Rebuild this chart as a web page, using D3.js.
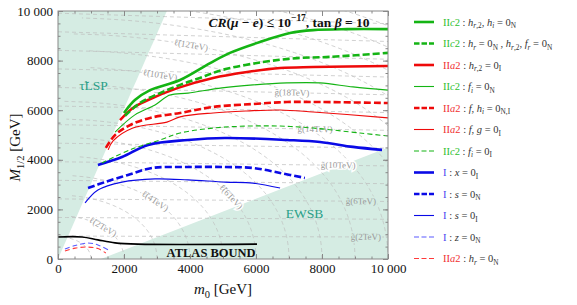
<!DOCTYPE html>
<html>
<head>
<meta charset="utf-8">
<script src="https://cdn.jsdelivr.net/npm/d3@7"></script>
<style>
  body { margin: 0; background: #fff; }
  svg { display: block; font-family: "Liberation Serif", "DejaVu Serif", serif; }
  text { white-space: pre; }
</style>
</head>
<body>
<svg id="chart" width="577" height="305"></svg>
<script>
// ── Data (m0, M1/2) in GeV ─────────────────────────────────────────────────
const c2Thick = [[2000,5890],[2330,6410],[2790,6810],[3700,7220],[4610,7900],[5210,8310],[6120,8750],[7030,9110],[7730,9230],[8760,9270],[10000,9270]];
const c2ThickDash = [[2030,5770],[2480,6290],[3090,6690],[3700,7020],[4300,7300],[4970,7620],[6210,7940],[7240,8100],[8240,8150],[10000,8310]];
const a2Thick = [[1880,5600],[2270,6090],[2730,6410],[3640,6900],[4700,7300],[5730,7540],[6730,7700],[7730,7740],[10000,7780]];
const c2Thin = [[1730,5120],[2330,5810],[2940,6210],[3390,6610],[3940,6690],[4970,6900],[5910,7020],[6940,7100],[7940,7100],[8940,6940],[10000,6810]];
const a2ThickDash = [[1450,4480],[1730,5000],[2180,5400],[2790,5690],[3700,5890],[4700,6130],[5910,6250],[6940,6330],[7940,6330],[10000,6290]];
const a2Thin = [[1520,4400],[1670,4760],[2270,5280],[3300,5520],[3700,5730],[4700,5890],[5730,5970],[6730,6010],[7730,5930],[10000,5690]];
const c2ThinDash = [[1330,3870],[2180,4400],[3090,4800],[3700,5080],[4700,5280],[5730,5360],[6730,5360],[7730,5280],[9150,5080],[10000,4960]];
const iThick = [[1210,3790],[1940,4110],[2730,4600],[3940,4800],[5060,4880],[6940,4800],[7940,4720],[8940,4520],[9820,4400]];
const iThickDash = [[910,2860],[1420,3100],[2120,3390],[2850,3670],[3940,3710],[5060,3710],[5910,3670],[6730,3470],[7480,3270]];
const iThin = [[820,2260],[1210,2780],[1940,3100],[2940,3230],[3940,3190],[5060,3100],[5910,3060],[6730,2860]];
const iThinDash = [[210,400],[520,545],[910,645],[1210,565],[1520,365]];
const a2ThinDash = [[210,320],[520,440],[910,480],[1210,420],[1450,240]];
const atlasBound = [[0,890],[730,890],[1210,770],[1730,650],[2420,600],[6030,600]];

const tauLspRegion = [[0,0],[0,10000],[3300,10000]];
const ewsbRegion = [[1300,0],[10000,4500],[10000,0]];

// contour families (TeV)
const sleptonMasses = [1,2,3,4,5,6,7,8,9,10,11,12,13,14,15,16];
const gluinoMasses = [2,4,6,8,10,12,14,16,18,20,22,24,26];
const sleptonLabels = [[2,1360],[4,2940],[6,5240],[10,3090],[12,4030]]; // [mass, m0 of label]
const gluinoLabels = [[2,9330],[6,9180],[10,8490],[14,7790],[18,7090]];

const tickValues = [0,2000,4000,6000,8000,10000];
const tickLabels = ["0","2000","4000","6000","8000","10 000"];

const legendItems = [
  { key: "c2Thick",     pre: "II*c*2", label: "*h*_{*r*,2}, *h*_{*i*} = 0_N" },
  { key: "c2ThickDash", pre: "II*c*2", label: "*h*_{*r*} = 0_N , *h*_{*r*,2}, *f*_{*r*} = 0_N" },
  { key: "a2Thick",     pre: "II*a*2", label: "*h*_{*r*,2} = 0_I" },
  { key: "c2Thin",      pre: "II*c*2", label: "*f*_{*i*} = 0_N" },
  { key: "a2ThickDash", pre: "II*a*2", label: "*f*, *h*_{*i*} = 0_{N,I}" },
  { key: "a2Thin",      pre: "II*a*2", label: "*f*, *g* = 0_I" },
  { key: "c2ThinDash",  pre: "II*c*2", label: "*f*_{*i*} = 0_I" },
  { key: "iThick",      pre: "I",      label: "*x* = 0_I" },
  { key: "iThickDash",  pre: "I",      label: "*s* = 0_N" },
  { key: "iThin",       pre: "I",      label: "*s* = 0_I" },
  { key: "iThinDash",   pre: "I",      label: "*z* = 0_N" },
  { key: "a2ThinDash",  pre: "II*a*2", label: "*h*_{*r*} = 0_N" }
];

const seriesData = { c2Thick, c2ThickDash, a2Thick, c2Thin, a2ThickDash, a2Thin, c2ThinDash, iThick, iThickDash, iThin, iThinDash, a2ThinDash };

// ── Styles ────────────────────────────────────────────────────────────────
const GREEN = "#14b414", RED = "#ee0a0a", BLUE = "#0a0ae6";
const style = {
  c2Thick:     { color: GREEN, w: 2.6, dash: null,  text: "#2ec02e" },
  c2ThickDash: { color: GREEN, w: 2.6, dash: "7 3", text: "#2ec02e" },
  a2Thick:     { color: RED,   w: 2.6, dash: null,  text: "#f03030" },
  c2Thin:      { color: GREEN, w: 1.1, dash: null,  text: "#2ec02e" },
  a2ThickDash: { color: RED,   w: 2.6, dash: "7 3", text: "#f03030" },
  a2Thin:      { color: RED,   w: 1.1, dash: null,  text: "#f03030" },
  c2ThinDash:  { color: GREEN, w: 1.1, dash: "5 3", text: "#2ec02e" },
  iThick:      { color: BLUE,  w: 2.6, dash: null,  text: "#4646f0" },
  iThickDash:  { color: BLUE,  w: 2.6, dash: "7 3", text: "#4646f0" },
  iThin:       { color: BLUE,  w: 1.1, dash: null,  text: "#4646f0" },
  iThinDash:   { color: "#5a5aff", w: 1.1, dash: "5 3", text: "#4646f0" },
  a2ThinDash:  { color: "#ff3a3a", w: 1.1, dash: "5 3", text: "#f03030" }
};
const SHADE = "#d5ece3", TEAL = "#2a9f88", CONTOUR = "#bdbdbd";

// ── Scales ────────────────────────────────────────────────────────────────
const svg = d3.select("#chart");
const x = d3.scaleLinear().domain([0, 10000]).range([58, 388]);
const y = d3.scaleLinear().domain([0, 10000]).range([259, 11]);
const px = ([a, b]) => [x(a), y(b)];

svg.append("defs").append("clipPath").attr("id", "plot")
  .append("rect").attr("x", x(0)).attr("y", y(10000)).attr("width", x(10000) - x(0)).attr("height", y(0) - y(10000));

const plot = svg.append("g").attr("clip-path", "url(#plot)");

// ── Math-ish text helper: *..* italic, _x / _{..} sub, ^x / ^{..} sup ──────
function runs(str) {
  const out = [];
  let i = 0, it = false;
  function push(ch, ital, shift) {
    const last = out[out.length - 1];
    if (last && last.italic === ital && last.shift === shift) last.text += ch;
    else out.push({ text: ch, italic: ital, shift });
  }
  function group() {
    if (str[i] !== "{") return str[i++];
    let depth = 1, j = i + 1;
    while (depth) { if (str[j] === "{") depth++; else if (str[j] === "}") depth--; j++; }
    const g = str.slice(i + 1, j - 1);
    i = j;
    return g;
  }
  while (i < str.length) {
    const c = str[i];
    if (c === "*") { it = !it; i++; continue; }
    if (c === "_" || c === "^") {
      i++;
      const g = group();
      let it2 = false;
      for (const ch of g) { if (ch === "*") { it2 = !it2; continue; } push(ch, it2, c === "_" ? 1 : -1); }
      continue;
    }
    push(c, it, 0);
    i++;
  }
  return out;
}
function mathText(sel, str, size, fill) {
  let cur = 0;
  for (const r of runs(str)) {
    const off = r.shift === 1 ? size * 0.28 : r.shift === -1 ? -size * 0.42 : 0;
    sel.append("tspan")
      .attr("dy", off - cur)
      .attr("font-size", r.shift ? size * 0.7 : size)
      .attr("font-style", r.italic ? "italic" : "normal")
      .attr("fill", fill)
      .text(r.text);
    cur = off;
  }
  if (cur) sel.append("tspan").attr("dy", -cur).text("");
}

// ── Shaded regions ────────────────────────────────────────────────────────
plot.selectAll("path.region").data([tauLspRegion, ewsbRegion]).join("path")
  .attr("class", "region")
  .attr("d", (d) => "M" + d.map(px).join("L") + "Z")
  .attr("fill", SHADE);

// ── Background contours ──────────────────────────────────────────────────
const cFac = (M) => 1.2 + 0.06 * M / 1000;
function sleptonCurve(mTeV) {
  const m = mTeV * 1000, pts = [];
  for (let M = 0; M <= 11000; M += 40) {
    const s = m * m - cFac(M) * M * M;
    if (s < 0) break;
    pts.push([Math.sqrt(s), M]);
  }
  return pts;
}
function sleptonM(mTeV, m0) {
  const m = mTeV * 1000;
  let lo = 0, hi = 20000;
  for (let k = 0; k < 50; k++) {
    const mid = (lo + hi) / 2;
    if (m * m - m0 * m0 - cFac(mid) * mid * mid > 0) lo = mid; else hi = mid;
  }
  return lo;
}
const gluinoM = (gTeV, m0) => (360 * gTeV + 170) * (1 + 0.04 * (1 - m0 / 9000));
const gluinoCurve = (gTeV) => d3.range(0, 10001, 250).map((m0) => [m0, gluinoM(gTeV, m0)]);

const line = d3.line().x((d) => x(d[0])).y((d) => y(d[1]));
const contourG = plot.append("g").attr("fill", "none").attr("stroke", CONTOUR)
  .attr("stroke-width", 0.7).attr("stroke-dasharray", "4 3");
contourG.selectAll("path.sl").data(sleptonMasses.map(sleptonCurve)).join("path").attr("class", "sl").attr("d", line);
contourG.selectAll("path.gl").data(gluinoMasses.map(gluinoCurve)).join("path").attr("class", "gl").attr("d", line);

// contour labels
function addLabel(str, p0, p1) {
  const [x0, y0] = px(p0), [x1, y1] = px(p1);
  const ang = Math.atan2(y1 - y0, x1 - x0) * 180 / Math.PI;
  const cx = (x0 + x1) / 2, cy = (y0 + y1) / 2;
  const inShade = d3.polygonContains(ewsbRegion, [(p0[0] + p1[0]) / 2, (p0[1] + p1[1]) / 2]);
  plot.append("text")
    .attr("transform", `translate(${cx},${cy}) rotate(${ang})`)
    .attr("text-anchor", "middle").attr("dy", "0.32em")
    .attr("font-size", 9).attr("fill", "#9a9a9a")
    .attr("stroke", inShade ? SHADE : "#fff").attr("stroke-width", 3).attr("paint-order", "stroke")
    .text(str);
}
sleptonLabels.forEach(([m, m0]) => {
  addLabel(`\u2113\u0303(${m}TeV)`, [m0 - 60, sleptonM(m, m0 - 60)], [m0 + 60, sleptonM(m, m0 + 60)]);
});
gluinoLabels.forEach(([g, m0]) => {
  addLabel(`g\u0303(${g}TeV)`, [m0 - 60, gluinoM(g, m0 - 60)], [m0 + 60, gluinoM(g, m0 + 60)]);
});

// region labels
plot.append("text").attr("x", x(1076)).attr("y", y(6815)).attr("text-anchor", "middle")
  .attr("font-size", 13.5).attr("fill", TEAL).text("\u03c4\u0303LSP");
plot.append("text").attr("x", x(7470)).attr("y", y(1650)).attr("text-anchor", "middle")
  .attr("font-size", 13.5).attr("fill", TEAL).text("EWSB");

// ── Constraint curves ────────────────────────────────────────────────────
const smooth = d3.line().x((d) => x(d[0])).y((d) => y(d[1])).curve(d3.curveCatmullRom.alpha(0.5));
const curveKeys = Object.keys(seriesData).slice().reverse();
plot.append("g").attr("fill", "none").selectAll("path").data(curveKeys).join("path")
  .attr("d", (k) => smooth(seriesData[k]))
  .attr("stroke", (k) => style[k].color)
  .attr("stroke-width", (k) => style[k].w)
  .attr("stroke-dasharray", (k) => style[k].dash);

plot.append("path").attr("d", smooth(atlasBound)).attr("fill", "none").attr("stroke", "#000").attr("stroke-width", 1.6);
plot.append("text").attr("x", x(4640)).attr("y", y(80)).attr("text-anchor", "middle")
  .attr("font-size", 12.5).attr("font-weight", "bold").attr("fill", "#111").text("ATLAS BOUND");

// ── Frame and ticks ──────────────────────────────────────────────────────
const minor = d3.range(0, 10001, 500);
const fmt = (d) => tickLabels[tickValues.indexOf(d)];
const axisSpecs = [
  [d3.axisBottom(x), `translate(0,${y(0)})`, true],
  [d3.axisTop(x), `translate(0,${y(10000)})`, false],
  [d3.axisLeft(y), `translate(${x(0)},0)`, true],
  [d3.axisRight(y), `translate(${x(10000)},0)`, false]
];
axisSpecs.forEach(([ax, tr, withLabels]) => {
  svg.append("g").attr("transform", tr)
    .call(ax.tickValues(minor).tickSize(-2.5).tickFormat(""))
    .call((g) => g.select(".domain").remove())
    .call((g) => g.selectAll("line").attr("stroke", "#888"));
  svg.append("g").attr("transform", tr)
    .call(ax.tickValues(tickValues).tickSize(-5).tickPadding(withLabels ? 5 : 0).tickFormat(withLabels ? fmt : ""))
    .call((g) => g.select(".domain").remove())
    .call((g) => g.selectAll("line").attr("stroke", "#888"))
    .call((g) => g.selectAll("text").attr("font-family", "Liberation Serif, serif").attr("font-size", 13).attr("fill", "#111"));
});
svg.append("rect").attr("x", x(0)).attr("y", y(10000)).attr("width", x(10000) - x(0)).attr("height", y(0) - y(10000))
  .attr("fill", "none").attr("stroke", "#888").attr("stroke-width", 1);

// axis titles
mathText(svg.append("text").attr("x", x(5000)).attr("y", 294).attr("text-anchor", "middle"), "*m*_0 [GeV]", 15, "#111");
mathText(svg.append("text").attr("transform", `translate(20,${y(4500)}) rotate(-90)`).attr("text-anchor", "middle"),
  "*M*_{1/2} [GeV]", 15, "#111");

// title
mathText(svg.append("text").attr("x", 289).attr("y", 27).attr("text-anchor", "middle").attr("font-weight", "bold"),
  "*CR*(*\u03bc* \u2212 *e*) \u2264 10^{\u221217}, tan *\u03b2* = 10", 13.5, "#111");

// ── Legend ────────────────────────────────────────────────────────────────
const ly = d3.scaleLinear().domain([0, legendItems.length - 1]).range([22, 258.5]);
const leg = svg.append("g").selectAll("g").data(legendItems).join("g")
  .attr("transform", (d, i) => `translate(0,${ly(i)})`);
leg.append("line").attr("x1", 414).attr("x2", 434)
  .attr("stroke", (d) => style[d.key].color)
  .attr("stroke-width", (d) => style[d.key].w)
  .attr("stroke-dasharray", (d) => (style[d.key].dash ? (style[d.key].w > 2 ? "5.5 2" : "5 2.5") : null));
leg.each(function (d) {
  const t = d3.select(this).append("text").attr("x", 443).attr("y", 3.5);
  mathText(t, d.pre, 10.5, style[d.key].text);
  mathText(t, " : " + d.label, 10.5, "#333");
});
</script>
</body>
</html>
